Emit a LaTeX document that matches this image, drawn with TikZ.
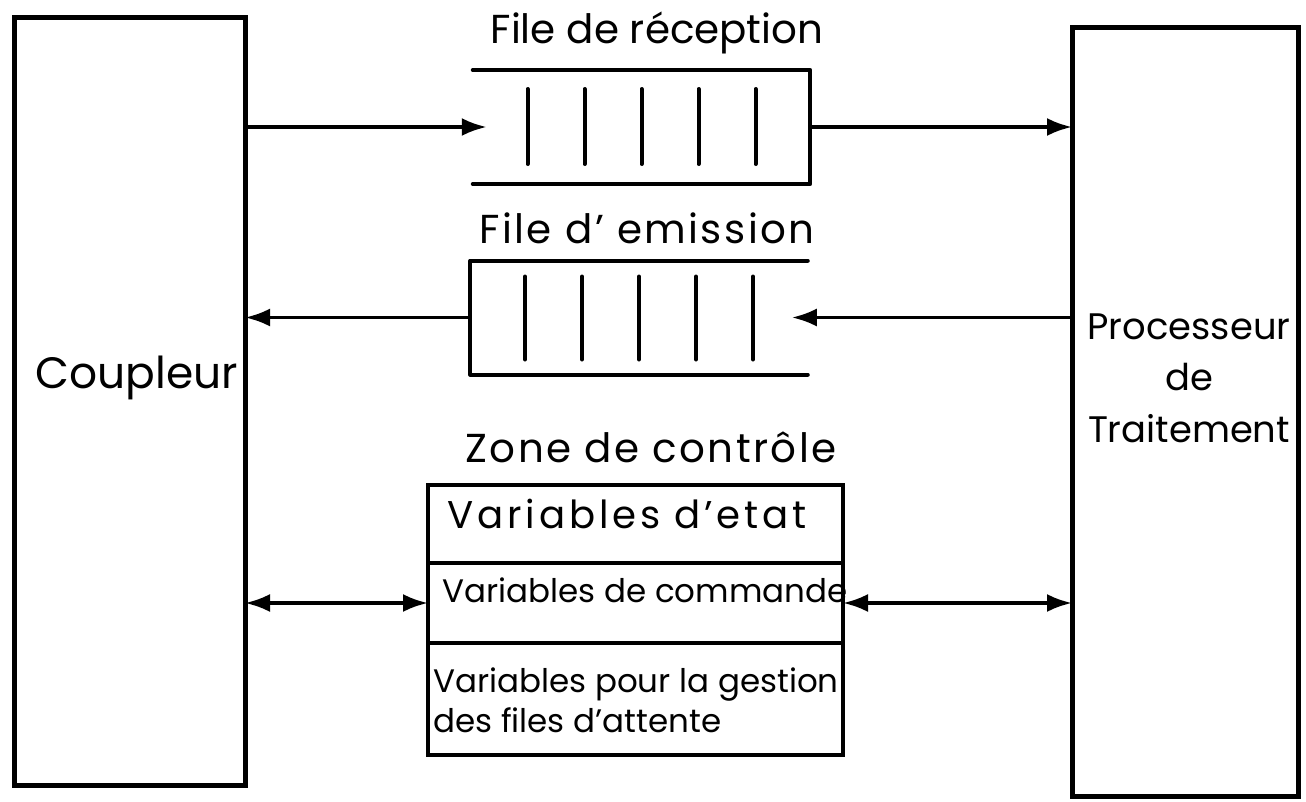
\documentclass[tikz,border=0pt]{standalone}
\usepackage{fontspec}
\setmainfont{Poppins}
\newfontfamily\handwide[LetterSpace=10]{Poppins}
\newfontfamily\handspaced[LetterSpace=6]{Poppins}
\usepackage{tikz}
\usetikzlibrary{arrows.meta,positioning}
\newcommand{\hand}{\fontsize{18.5}{23}\selectfont}
\newcommand{\handtitle}{\fontsize{23}{27}\selectfont}

\begin{document}
\begin{tikzpicture} [x = 0.2mm, y = -0.2mm, font = \hand,
	box/.style = {draw, line width = 1mm, minimum width = #1, inner sep = 0pt, outer sep = 0pt},
	queue/.style = {minimum width = 67.5mm, minimum height = 22.8mm, inner sep = 0pt, outer sep = 0pt},
	cell/.style = {draw, line width = 0.8mm, minimum width = 83mm, inner sep = 0pt, outer sep = 0pt},
	title/.style = {anchor = base, inner sep = 0pt, font = \handtitle},
	side/.style = {line width = 0.8mm, line cap = round, line join = round},
	bar/.style = {line width = 0.8mm, line cap = round},
	arr/.style = {line width = 0.7mm, -{Latex[length = 5mm, width = 3.6mm]}},
	darr/.style = {line width = 0.7mm, {Latex[length = 5mm, width = 3.6mm]}-{Latex[length = 5mm, width = 3.6mm]}}]
	\useasboundingbox (0,0) rectangle (1306,802);
	% blocs lateraux
	\node [box = 46mm, minimum height = 153.4mm] (coup) at (130,401.5) {};
	\node [font = \fontsize{25}{29}\selectfont] at (137,378) {Coupleur};
	\node [box = 45.2mm, minimum height = 153.6mm] (proc) at (1185,412) {};
	\node [align = center, text depth = 0pt, font = \fontsize{21}{25}\selectfont] at (1189,378) {Processeur\\[1.5mm]de\\[1.5mm]Traitement};
	% files
	\node [queue] (recv) at (641.5,127) {};
	\draw [side] (recv.north west) -- (recv.north east) -- (recv.south east) -- (recv.south west);
	\node [title] at (657,43) {File de réception};
	\node [queue] (emit) at (639,317.5) {};
	\draw [side] (emit.north east) -- (emit.north west) -- (emit.south west) -- (emit.south east);
	\node [title] at (647,243) {\handspaced File d’ emission};
	\foreach \i in {-2,...,2} {
		\draw [bar] ([xshift = \i*11.4mm, yshift = 7.6mm]recv.center) -- ++(0,-15mm);
		\draw [bar] ([xshift = \i*11.4mm, yshift = 8.2mm]emit.center) -- ++(0,-16.6mm);
	}
	% zone de controle
	\node [cell, minimum height = 15.6mm] (etat) at (635.5,524) {};
	\node [cell, minimum height = 16mm, below = 0pt of etat] (cmd) {};
	\node [cell, minimum height = 22.4mm, below = 0pt of cmd] (gest) {};
	\node [title] at (651,462) {\handspaced Zone de contrôle};
	\node [anchor = base west, inner sep = 0pt, font = \fontsize{22}{26}\selectfont\handwide] at (447,528) {Variables d’etat};
	\node [anchor = base west, inner sep = 0pt] at (442,602) {Variables de commande};
	\node [anchor = west, align = left, inner sep = 0pt] at (433,700) {Variables pour la gestion\\des files d’attente};
	% liaisons
	\draw [arr] (coup.east |- recv.west) -- ([xshift = 2.8mm]recv.west);
	\draw [arr] (recv.east) -- (proc.west |- recv.east);
	\draw [arr] (proc.west |- emit.east) -- ([xshift = -3.2mm]emit.east);
	\draw [arr] (emit.west) -- (coup.east |- emit.west);
	\draw [darr] (coup.east |- cmd.west) -- (cmd.west);
	\draw [darr] (cmd.east) -- (proc.west |- cmd.east);
\end{tikzpicture}
\end{document}
